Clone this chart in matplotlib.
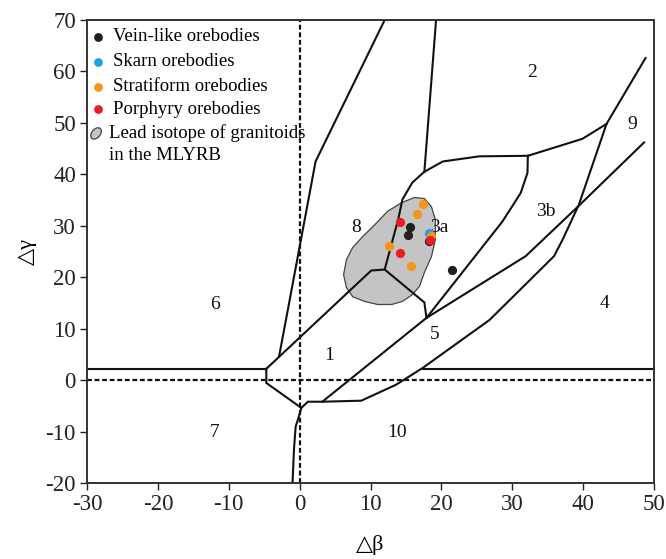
import matplotlib
matplotlib.use('Agg')
import matplotlib.pyplot as plt
from matplotlib.patches import Polygon, Ellipse
from matplotlib.transforms import ScaledTranslation

# ---------------- data ----------------
vein_x = [15.6, 15.25, 18.2, 21.45]
vein_y = [29.8, 28.3, 27.1, 21.5]
skarn_x = [18.2]
skarn_y = [28.5]
strat_x = [17.4, 16.5, 18.6, 12.6, 15.7]
strat_y = [34.3, 32.2, 28.1, 26.0, 22.1]
porph_x = [14.2, 18.4, 14.1]
porph_y = [30.8, 27.3, 24.7]

# granitoid field outline
gran_x = [16.2, 17.6, 18.6, 19.15, 19.15, 18.6, 17.6, 16.9, 15.9, 14.5, 13.0,
          11.0, 9.15, 7.5, 6.6, 6.2, 6.6, 7.5, 8.9, 10.6, 12.4, 14.4]
gran_y = [35.5, 35.3, 33.7, 31.2, 27.3, 24.0, 20.9, 18.2, 16.6, 15.3, 14.7,
          14.7, 15.3, 16.2, 18.0, 20.5, 23.4, 25.8, 27.9, 30.2, 32.8, 34.5]

# field boundaries (polylines)
hl_x = [-30, -4.7]                 # left horizontal
hl_y = [2.2, 2.2]
hr_x = [17.4, 50]                  # right horizontal
hr_y = [2.2, 2.2]
b67_x = [-4.7, -4.7, 0.24, -0.24, -0.56, -0.8, -1.0]
b67_y = [2.2, -0.55, -5.4, -7.7, -9.0, -13.5, -20]
b1_x = [-4.7, 10.1, 12.0, 17.6, 17.9]
b1_y = [2.2, 21.3, 21.5, 15.1, 12.1]
b68_x = [12.0, 2.25, -1.4, -2.9]
b68_y = [70, 42.5, 15.6, 4.6]
b83_x = [17.6, 15.9, 14.5, 13.9, 12.0]
b83_y = [40.5, 38.4, 35.1, 31.2, 21.5]
b82_x = [17.6, 19.25]
b82_y = [40.5, 70]
b23_x = [17.6, 20.2, 25.35, 32.2, 39.9, 43.3]
b23_y = [40.5, 42.5, 43.5, 43.6, 46.9, 49.8]
b3ab_x = [32.2, 32.15, 31.2, 30.0, 28.6, 17.9]
b3ab_y = [43.6, 40.3, 36.4, 33.8, 30.8, 12.1]
b35_x = [17.9, 31.9, 39.4, 48.6]
b35_y = [12.1, 24.1, 33.9, 46.2]
b15_x = [3.2, 17.9]
b15_y = [-4.2, 12.1]
blow_x = [0.24, 1.17, 3.2, 8.7, 13.6, 17.4, 26.8, 35.9, 37.1, 39.4, 43.3, 48.8]
blow_y = [-5.4, -4.2, -4.2, -4.0, -0.9, 2.4, 11.7, 24.1, 27.3, 34.1, 49.8, 62.6]

region_labels = ['2', '9', '3b', '3a', '8', '6', '1', '5', '4', '7', '10']
region_x = [32.8, 46.9, 34.8, 19.7, 8.0, -12.0, 4.2, 19.0, 43.0, -12.0, 13.8]
region_y = [59.8, 49.7, 32.8, 29.6, 29.6, 14.7, 4.8, 8.8, 14.9, -10.2, -10.2]

x_ticks = [-30, -20, -10, 0, 10, 20, 30, 40, 50]
y_ticks = [-20, -10, 0, 10, 20, 30, 40, 50, 60, 70]

legend_names = ['Vein-like orebodies', 'Skarn orebodies',
                'Stratiform orebodies', 'Porphyry orebodies']
legend_colors = ['#231f20', '#1fa3e6', '#f7941d', '#ed1c24']

# ---------------- plot ----------------
SERIF = ['Liberation Serif', 'DejaVu Serif']
plt.rcParams['font.family'] = SERIF
plt.rcParams['axes.unicode_minus'] = False

fig = plt.figure(figsize=(6.66, 5.59), dpi=100)
ax = fig.add_axes([87/666, 76/559, 567/666, 463/559])
ax.set_xlim(-30, 50)
ax.set_ylim(-20, 70)

lc = '#111111'
lw = 1.5
ax.add_patch(Polygon(list(zip(gran_x, gran_y)), closed=True, facecolor='#c4c4c4',
                     edgecolor='#444444', linewidth=0.9, zorder=1))

for xs, ys in [(hl_x, hl_y), (hr_x, hr_y), (b67_x, b67_y), (b1_x, b1_y),
               (b68_x, b68_y), (b83_x, b83_y), (b82_x, b82_y), (b23_x, b23_y),
               (b3ab_x, b3ab_y), (b35_x, b35_y), (b15_x, b15_y), (blow_x, blow_y)]:
    ax.plot(xs, ys, color=lc, lw=lw, solid_joinstyle='miter', zorder=2)

ax.axhline(0, color=lc, lw=1.6, linestyle=(0, (2.2, 1.2)), zorder=2)
ax.axvline(0, color=lc, lw=1.6, linestyle=(0, (2.2, 1.2)), zorder=2)

for t, x, y in zip(region_labels, region_x, region_y):
    ax.text(x, y, t, fontsize=14, ha='center', va='center', color='#111111', zorder=3)

s = 44
ax.scatter(vein_x, vein_y, s=s, color=legend_colors[0], zorder=4, linewidths=0)
ax.scatter(skarn_x, skarn_y, s=s, color=legend_colors[1], zorder=5, linewidths=0)
ax.scatter(strat_x, strat_y, s=s, color=legend_colors[2], zorder=6, linewidths=0)
ax.scatter(porph_x, porph_y, s=s, color=legend_colors[3], zorder=7, linewidths=0)

# legend (manual, axes coords)
rows_y = [0.964, 0.910, 0.856, 0.807]
for name, col, ry in zip(legend_names, legend_colors, rows_y):
    ax.scatter([0.0194], [ry], s=40, color=col, transform=ax.transAxes,
               zorder=8, linewidths=0, clip_on=False)
    ax.text(0.046, ry, name, transform=ax.transAxes, fontsize=13.5,
            ha='left', va='center', zorder=8)
ell = Ellipse((0, 0), 0.13, 0.085, angle=50, facecolor='#c4c4c4',
              edgecolor='#444444', linewidth=0.9,
              transform=fig.dpi_scale_trans + ScaledTranslation(0.016, 0.755, ax.transAxes),
              zorder=8)
ax.add_artist(ell)
ax.text(0.038, 0.755, 'Lead isotope of granitoids', transform=ax.transAxes,
        fontsize=13.5, ha='left', va='center', zorder=8)
ax.text(0.038, 0.708, 'in the MLYRB', transform=ax.transAxes,
        fontsize=13.5, ha='left', va='center', zorder=8)

ax.set_xticks(x_ticks)
ax.set_yticks(y_ticks)
ax.tick_params(direction='out', length=5, width=1, labelsize=16.5, pad=3,
               colors='#222222')
for sp in ax.spines.values():
    sp.set_linewidth(1.4)
    sp.set_color('#333333')

ax.set_xlabel('△β', fontsize=16, labelpad=14)
ax.set_ylabel('△γ', fontsize=16, labelpad=6)

fig.savefig('out.png', dpi=100)
